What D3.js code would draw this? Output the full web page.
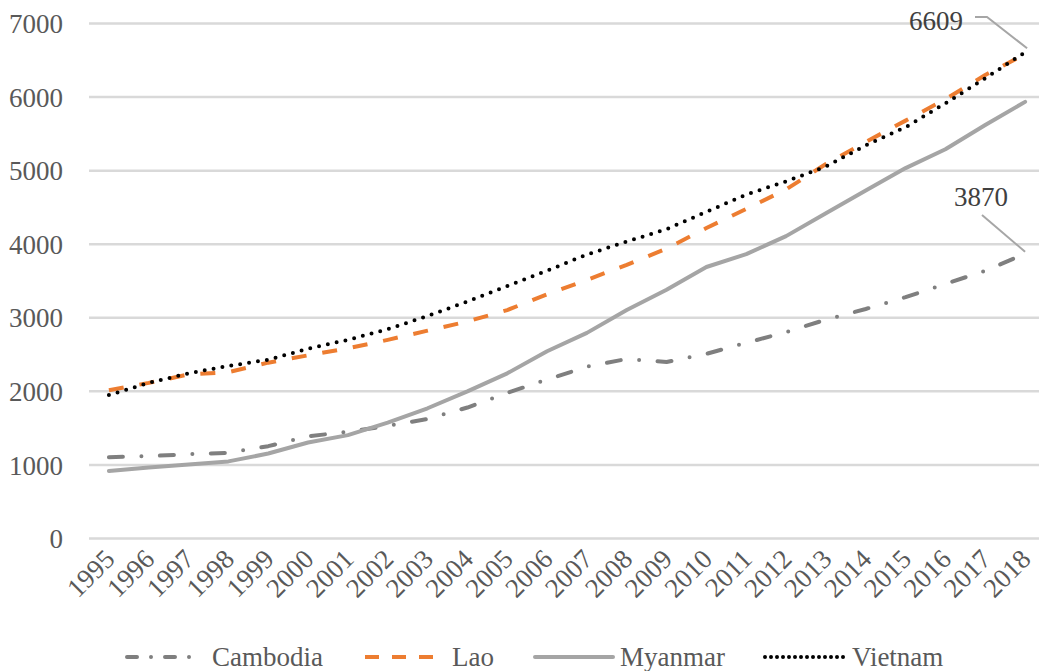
<!DOCTYPE html>
<html>
<head>
<meta charset="utf-8">
<script src="https://cdn.jsdelivr.net/npm/d3@7"></script>
<style>
html,body{margin:0;padding:0;background:#fff;overflow:hidden;}
svg{display:block;}
text{font-family:"Liberation Serif","Times New Roman",serif;}
</style>
</head>
<body>
<svg id="chart" width="1039" height="671"></svg>
<script>
const years = ["1995","1996","1997","1998","1999","2000","2001","2002","2003","2004","2005","2006","2007","2008","2009","2010","2011","2012","2013","2014","2015","2016","2017","2018"];
const cambodia = [1105,1120,1145,1165,1255,1390,1450,1530,1625,1780,1980,2160,2335,2440,2400,2510,2660,2805,2975,3120,3280,3460,3640,3870];
const lao = [2015,2115,2230,2260,2390,2490,2585,2700,2825,2950,3105,3320,3515,3720,3940,4220,4480,4745,5090,5390,5680,5970,6300,6585];
const myanmar = [918,965,1005,1048,1155,1305,1405,1575,1770,2000,2245,2545,2795,3105,3380,3690,3865,4110,4420,4730,5035,5290,5620,5935];
const vietnam = [1950,2115,2245,2345,2430,2580,2700,2845,3025,3220,3430,3640,3860,4035,4205,4440,4675,4855,5055,5345,5590,5915,6255,6609];
const yTicks = [0,1000,2000,3000,4000,5000,6000,7000];
const seriesNames = ["Cambodia","Lao","Myanmar","Vietnam"];
const endLabels = ["6609","3870"];

const series = [
  {name: seriesNames[0], values: cambodia, color: "#7f7f7f", dash: "14,18.5,0,18.5", cap: "round", width: 4},
  {name: seriesNames[1], values: lao, color: "#ed7d31", dash: "15,16", cap: "butt", width: 4},
  {name: seriesNames[2], values: myanmar, color: "#a5a5a5", dash: null, cap: "round", width: 4},
  {name: seriesNames[3], values: vietnam, color: "#000000", dash: "0,9", cap: "round", width: 4}
];

const svg = d3.select("#chart");
const x = d3.scalePoint().domain(years).range([89, 1045]).padding(0.5);
const y = d3.scaleLinear().domain([0, 7000]).range([538.5, 23.5]);

// gridlines
svg.append("g").selectAll("line").data(yTicks).join("line")
  .attr("x1", 89).attr("x2", 1045)
  .attr("y1", d => y(d)).attr("y2", d => y(d))
  .attr("stroke", "#d9d9d9").attr("stroke-width", 2.5);

// y axis labels
const yAxis = d3.axisLeft(y).tickValues(yTicks).tickSize(0).tickPadding(0).tickFormat(d3.format("d"));
const ya = svg.append("g").attr("transform", "translate(63,0)").call(yAxis);
ya.select(".domain").remove();
ya.selectAll("text").attr("font-size", 27).attr("fill", "#595959")
  .attr("font-family", "Liberation Serif").attr("dy", "0.34em");

// x axis labels
const xAxis = d3.axisBottom(x).tickSize(0).tickPadding(0);
const xa = svg.append("g").attr("transform", "translate(0,557)").call(xAxis);
xa.select(".domain").remove();
xa.selectAll("text").attr("font-size", 27).attr("fill", "#595959")
  .attr("font-family", "Liberation Serif")
  .attr("text-anchor", "end").attr("dy", "0.2em")
  .attr("transform", "translate(3,0) rotate(-45)");

// lines
const line = d3.line().x((d, i) => x(years[i])).y(d => y(d));
svg.append("g").selectAll("path").data(series).join("path")
  .attr("d", d => line(d.values))
  .attr("fill", "none")
  .attr("stroke", d => d.color)
  .attr("stroke-width", d => d.width)
  .attr("stroke-linecap", d => d.cap)
  .attr("stroke-linejoin", "round")
  .attr("stroke-dasharray", d => d.dash);

// end labels with leader lines
const last = years[years.length - 1];
const lbl = svg.append("g");
// 6609
lbl.append("polyline")
  .attr("points", [[975,17],[987,17],[x(last)+2, y(vietnam[vietnam.length-1])-4]].map(p=>p.join(",")).join(" "))
  .attr("fill","none").attr("stroke","#a6a6a6").attr("stroke-width",2);
lbl.append("text").attr("x", 963).attr("y", 30).attr("text-anchor","end")
  .attr("font-size",27).attr("fill","#404040").text(endLabels[0]);
// 3870
lbl.append("polyline")
  .attr("points", [[982,215],[x(last), y(cambodia[cambodia.length-1])-2]].map(p=>p.join(",")).join(" "))
  .attr("fill","none").attr("stroke","#a6a6a6").attr("stroke-width",2);
lbl.append("text").attr("x", 1008).attr("y", 206).attr("text-anchor","end")
  .attr("font-size",27).attr("fill","#404040").text(endLabels[1]);

// legend
const legendItems = [
  {s: series[0], x1: 125, x2: 191, tx: 212},
  {s: series[1], x1: 365, x2: 445, tx: 452},
  {s: series[2], x1: 535, x2: 613, tx: 620},
  {s: series[3], x1: 765, x2: 847, tx: 852}
];
const lg = svg.append("g");
const ly = 657;
lg.selectAll("line").data(legendItems).join("line")
  .attr("x1", d => d.x1).attr("x2", d => d.x2)
  .attr("y1", ly).attr("y2", ly)
  .attr("stroke", d => d.s.color).attr("stroke-width", 4)
  .attr("stroke-linecap", d => d.s.cap)
  .attr("stroke-dasharray", d => d.s.name === "Cambodia" ? "10,14,0,14" : (d.s.name === "Lao" ? "14,13" : (d.s.name === "Vietnam" ? "0,6" : null)))
  .attr("stroke-dashoffset", d => d.s.name === "Cambodia" ? -2 : 0);
lg.selectAll("text").data(legendItems).join("text")
  .attr("x", d => d.tx).attr("y", ly + 9)
  .attr("font-size", 27).attr("fill", "#595959")
  .text(d => d.s.name);
</script>
</body>
</html>
